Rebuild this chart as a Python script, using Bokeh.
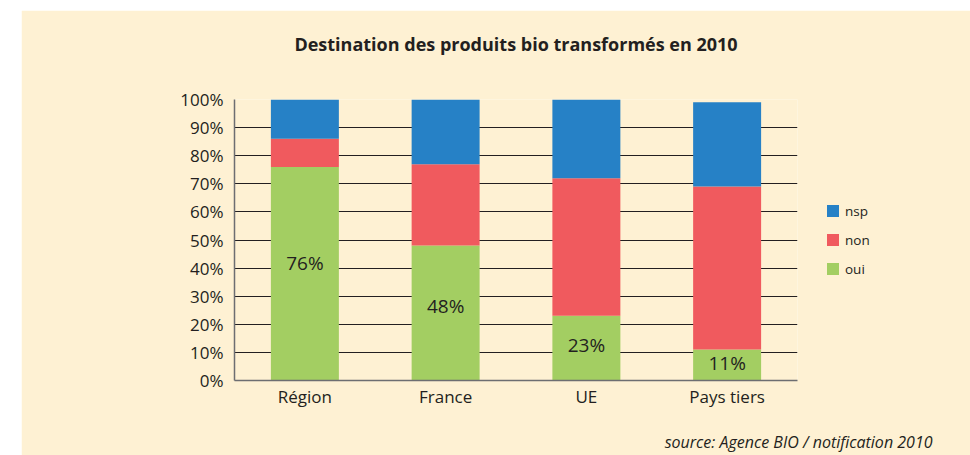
from bokeh.plotting import figure
from bokeh.models import (ColumnDataSource, Legend, LegendItem, FixedTicker,
                          PrintfTickFormatter, Title)
from bokeh.core.properties import value
from bokeh.embed import file_html
from bokeh.resources import INLINE

categories = ["Région", "France", "UE", "Pays tiers"]
oui = [76, 48, 23, 11]
non = [10, 29, 49, 58]
nsp = [14, 23, 28, 30]
series = ["oui", "non", "nsp"]
colors = ["#a3ce62", "#f05a5e", "#2681c6"]
y_ticks = list(range(0, 101, 10))

title_text = "Destination des produits bio transformés en 2010"
source_text = "source: Agence BIO / notification 2010"

FONT = "Open Sans"
DARK = "#231f20"
BG = "#fef1d3"

src = ColumnDataSource(dict(cat=categories, oui=oui, non=non, nsp=nsp,
                            lab=[f"{v}%" for v in oui],
                            ly=[v * 0.55 for v in oui]))

p = figure(x_range=categories, y_range=(0, 100), frame_width=563, frame_height=281,
           output_backend="svg", toolbar_location=None,
           min_border_left=213, min_border_right=173, min_border_top=89,
           min_border_bottom=75)
p.title = None
p.margin = (10, 0, 0, 21)
p.background_fill_color = BG
p.border_fill_color = BG
p.outline_line_color = None
p.x_range.range_padding = 0

renderers = p.vbar_stack(series, x="cat", width=0.483, source=src, color=colors,
                         line_color=None)

p.text(x="cat", y="ly", text="lab", source=src, text_align="center",
       text_baseline="middle", text_font=value(FONT), text_font_size="19px",
       text_color=DARK)

p.xgrid.grid_line_color = None
p.ygrid.grid_line_color = DARK
p.ygrid.grid_line_width = 1.2
p.ygrid.ticker = FixedTicker(ticks=y_ticks)

p.yaxis.ticker = FixedTicker(ticks=y_ticks)
p.yaxis.formatter = PrintfTickFormatter(format="%d%%")
for ax in (p.xaxis, p.yaxis):
    ax.major_tick_line_color = None
    ax.minor_tick_line_color = None
    ax.major_tick_out = 0
    ax.major_tick_in = 0
    ax.minor_tick_out = 0
    ax.major_label_text_font = FONT
    ax.major_label_text_font_size = "17px"
    ax.major_label_text_color = DARK
    ax.axis_line_color = "#6d6e71"
    ax.axis_line_width = 1.5
p.yaxis.major_label_standoff = 11
p.xaxis.major_label_standoff = 4

items = [LegendItem(label=series[i], renderers=[renderers[i]]) for i in (2, 1, 0)]
legend = Legend(items=items, location="left", orientation="vertical",
                glyph_width=15, glyph_height=15, label_standoff=5, spacing=11,
                padding=0, margin=28, background_fill_alpha=0, border_line_color=None,
                label_text_font=FONT, label_text_font_size="13.5px", label_text_color=DARK,
                label_height=15)
p.add_layout(legend, "right")

# spacer above the frame, then the main title further out
p.add_layout(Title(text=" ", text_font_size="1px", standoff=41), "above")
p.add_layout(Title(text=title_text, align="center", text_font=FONT,
                   text_font_size="18px", text_font_style="bold",
                   text_color=DARK, standoff=0), "above")

# spacer below the axis, then the source note
p.add_layout(Title(text=" ", text_font_size="1px", standoff=15), "below")
p.add_layout(Title(text=source_text, align="right", offset=-135, text_font=FONT,
                   text_font_size="16px", text_font_style="italic",
                   text_color=DARK, standoff=0), "below")

open("out.html", "w").write(file_html(p, INLINE))
